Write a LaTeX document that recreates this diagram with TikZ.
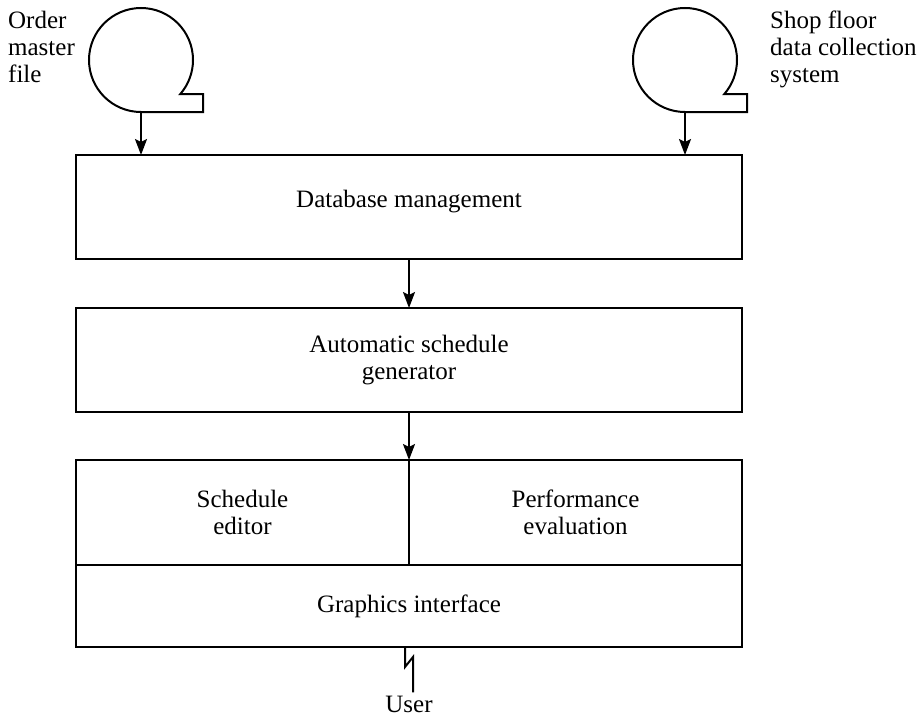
\documentclass[tikz,border=0pt]{standalone}
\usepackage{fontspec}
\setmainfont{LiberationSerif-Regular.ttf}
\newfontfamily\figfont{LiberationSerif-Regular.ttf}
\usetikzlibrary{positioning, arrows.meta}

\begin{document}
\begin{tikzpicture}[
  x=1pt, y=-1pt,
  >={Stealth[length=16pt, width=12pt, inset=3pt]},
  every node/.style={font=\figfont\fontsize{25}{27}\selectfont},
  block/.style={draw, line width=2.3pt, outer sep=0pt, inner sep=0pt,
                minimum width=666pt, minimum height=104pt, align=center},
  half/.style={block, minimum width=333pt, minimum height=105pt},
  link/.style={->, line width=2pt},
  tape/.style={line width=2pt}
]
\useasboundingbox (0,0) rectangle (924,717);

% ---- Processing blocks ----
\node[block, text height=17pt, text depth=17pt] (dbm) at (409,207) {Database management};
\node[block, below=49pt of dbm] (asg) {Automatic schedule\\generator};
\node[half, below right=48pt and 0pt of asg.south west] (sed) {Schedule\\editor};
\node[half, right=0pt of sed] (pev) {Performance\\evaluation};
\node[block, minimum height=82pt, below right=0pt and 0pt of sed.south west] (gif)
  {Graphics interface};

% ---- Tape sources ----
\coordinate (omf) at (141,60);
\coordinate (sfd) at (685,60);
\foreach \t in {omf, sfd}
  \draw[tape] (\t) ++(0,52) coordinate (\t out)
    arc[start angle=90, end angle=400.9, radius=52]
    -- ++(22.7,0) -- ++(0,18) -- cycle;

\node[anchor=west, align=left, inner sep=0pt] (omflabel) at (8,47)
  {Order\\master\\file};
\node[anchor=west, align=left, inner sep=0pt] (sfdlabel) at (770,49)
  {Shop floor\\data collection\\system};

% ---- Flow ----
\draw[link] (omfout) -- (omfout |- dbm.north);
\draw[link] (sfdout) -- (sfdout |- dbm.north);
\draw[link] (dbm) -- (asg);
\draw[link] (asg.south) -- (sed.north east);

% ---- User ----
\node[anchor=base, inner sep=3pt] (usr) at (409,712) {User};
\draw[tape] ([xshift=-4pt]gif.south) -- ++(0,20) -- ++(8,-10)
  -- ([xshift=4pt]usr.north);

\end{tikzpicture}
\end{document}
